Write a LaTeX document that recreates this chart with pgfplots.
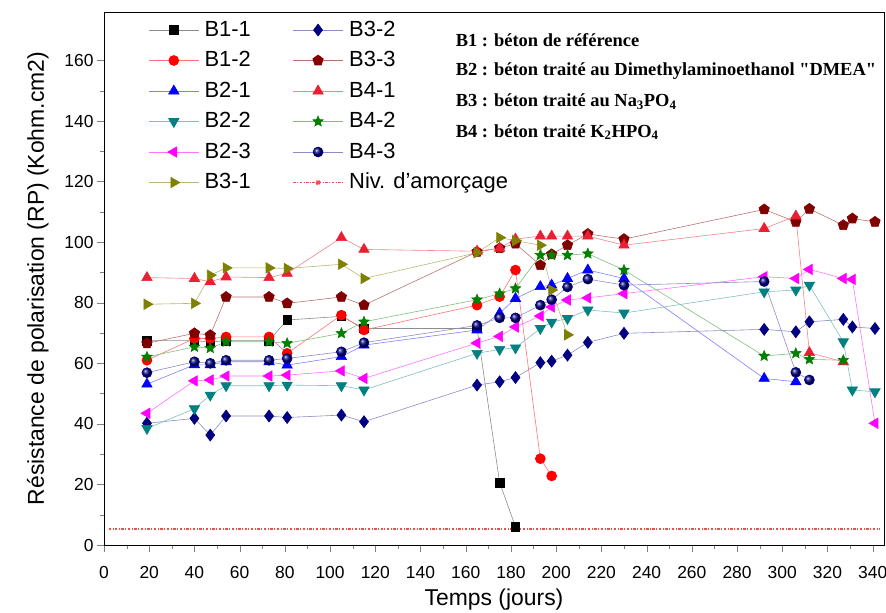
\documentclass[border=0pt]{standalone}
\usepackage{pgfplots}
\pgfplotsset{compat=1.18}
\usepackage{fontspec}
\setmainfont{Liberation Sans}
\newfontfamily\tnr{Liberation Serif}
\definecolor{navy}{RGB}{0,0,128}
\definecolor{wine}{RGB}{128,0,0}
\definecolor{olivec}{RGB}{128,128,0}
\definecolor{dcyan}{RGB}{0,128,128}
\definecolor{dgreen}{RGB}{0,128,0}
\definecolor{redA}{RGB}{255,0,0}
\definecolor{redB}{RGB}{235,30,50}
\definecolor{blueA}{RGB}{0,0,255}
\definecolor{magA}{RGB}{255,0,255}
\definecolor{nivc}{RGB}{235,80,80}
\pgfdeclareplotmark{fstar}{%
  \pgfpathmoveto{\pgfpointpolar{90}{\pgfplotmarksize}}%
  \pgfpathlineto{\pgfpointpolar{126}{0.45\pgfplotmarksize}}%
  \pgfpathlineto{\pgfpointpolar{162}{\pgfplotmarksize}}%
  \pgfpathlineto{\pgfpointpolar{198}{0.45\pgfplotmarksize}}%
  \pgfpathlineto{\pgfpointpolar{234}{\pgfplotmarksize}}%
  \pgfpathlineto{\pgfpointpolar{270}{0.45\pgfplotmarksize}}%
  \pgfpathlineto{\pgfpointpolar{306}{\pgfplotmarksize}}%
  \pgfpathlineto{\pgfpointpolar{342}{0.45\pgfplotmarksize}}%
  \pgfpathlineto{\pgfpointpolar{18}{\pgfplotmarksize}}%
  \pgfpathlineto{\pgfpointpolar{54}{0.45\pgfplotmarksize}}%
  \pgfpathclose
  \pgfusepathqfillstroke
}
\pgfplotsset{nivlegend/.style={legend image code/.code={\draw[##1] (0bp,0bp) -- (50bp,0bp); \fill[nivc] (25bp,0bp) circle (2bp);}}}
\begin{document}
\begin{tikzpicture}
\path[use as bounding box] (-104bp,-68bp) rectangle (782bp,545bp);
\begin{axis}[
  scale only axis, width=780bp, height=533bp,
  xmin=0, xmax=345, ymin=0, ymax=176,
  xtick={0,20,...,340}, ytick={0,20,...,160},
  minor x tick num=1, minor y tick num=1,
  tick align=outside, tick pos=left,
  major tick length=7bp, minor tick length=4bp,
  axis line style={line width=0.9pt},
  /pgf/number format/assume math mode=true,
  tick label style={font=\fontsize{17.5}{18}\selectfont},
  xticklabel style={yshift=-11bp},
  xlabel={Temps (jours)},
  ylabel={Résistance de polarisation (RP) (Kohm.cm2)},
  label style={font=\fontsize{23}{24}\selectfont},
  xlabel style={at={(axis description cs:0.5,-0.103)},anchor=center},
  ylabel style={at={(axis description cs:-0.085,0.5)},anchor=center},
  legend columns=2,
  legend cell align=left,
  legend style={at={(axis description cs:0.053,0.99)}, anchor=north west,
    draw=none, fill=none, font=\fontsize{22}{22}\selectfont,
    row sep=9.5bp,
    nodes={inner sep=1.5bp, text height=15bp, text depth=3bp},
    /tikz/every odd column/.append style={column sep=4bp},
    /tikz/every even column/.append style={column sep=40bp}},
  legend image code/.code={\draw[mark repeat=2,mark phase=2,#1] plot coordinates {(0bp,0bp) (25bp,0bp) (50bp,0bp)};},
  every axis plot/.append style={line width=0.6pt},
]
% B1-1
\addplot[color=black!45, mark=square*, mark size=4.3bp, mark options={solid,fill=black,draw=black}]
coordinates {(19,67.5) (40,67.5) (47,67) (54,67.5) (73,67.5) (81,74.3) (105,75.5) (115,71.5) (165,71.5) (175,20.6) (182,6)};
\addlegendentry{B1-1}
% B3-2
\addplot[color=navy!45, mark=diamond*, mark size=6bp, mark options={solid,fill=navy,draw=navy}]
coordinates {(19,40.2) (40,41.8) (47,36.3) (54,42.6) (73,42.6) (81,42.1) (105,42.9) (115,40.7) (165,52.8) (175,53.9) (182,55.3) (193,60.2) (198,60.7) (205,62.7) (214,66.9) (230,69.9) (292,71.2) (306,70.4) (312,73.7) (327,74.5) (331,72) (341,71.5)};
\addlegendentry{B3-2}
% B1-2
\addplot[color=redA!55, mark=*, mark size=5bp, mark options={solid,fill=redA,draw=redA}]
coordinates {(19,61) (40,68.2) (47,68.2) (54,68.7) (73,68.7) (81,63.3) (105,75.9) (115,71) (165,79.2) (175,82) (182,90.8) (193,28.5) (198,22.8)};
\addlegendentry{B1-2}
% B3-3
\addplot[color=wine!55, mark=pentagon*, mark size=5.5bp, mark options={solid,fill=wine,draw=wine}]
coordinates {(19,66.6) (40,69.9) (47,69.3) (54,81.9) (73,81.9) (81,79.8) (105,81.9) (115,79.2) (165,96.8) (175,98) (182,99.5) (193,92.4) (198,96) (205,99) (214,102.7) (230,101) (292,110.8) (306,106.7) (312,111) (327,105.6) (331,107.8) (341,106.7)};
\addlegendentry{B3-3}
% B2-1
\addplot[color=blueA!50, mark=triangle*, mark size=6bp, mark options={solid,fill=blueA,draw=blueA}]
coordinates {(19,53.1) (40,59.5) (47,59.5) (54,60.5) (73,60.5) (81,59.4) (105,62.2) (115,66) (165,71) (175,76.5) (182,81.4) (193,85.3) (198,85.8) (205,88) (214,90.8) (230,88) (292,55) (306,53.9)};
\addlegendentry{B2-1}
% B4-1
\addplot[color=redB!55, mark=triangle*, mark size=6bp, mark options={solid,fill=redB,draw=redB}]
coordinates {(19,88.3) (40,88) (47,86.9) (54,88.5) (73,88.3) (81,89.7) (105,101.5) (115,97.6) (165,97) (175,98) (182,101) (193,102) (198,102) (205,102) (214,102) (230,99) (292,104.5) (306,108.6) (312,63.5) (327,60.5)};
\addlegendentry{B4-1}
% B2-2
\addplot[color=dcyan!50, mark=triangle*, mark size=6bp, mark options={solid,rotate=180,fill=dcyan,draw=dcyan}]
coordinates {(19,38.5) (40,45) (47,49.5) (54,52.6) (73,52.6) (81,52.8) (105,52.6) (115,51.2) (165,63.3) (175,64.6) (182,65.1) (193,71.5) (198,73.6) (205,74.8) (214,77.6) (230,76.6) (292,83.6) (306,84.2) (312,85.8) (327,67.1) (331,51.2) (341,50.6)};
\addlegendentry{B2-2}
% B4-2
\addplot[color=dgreen!50, mark=fstar, mark size=5.5bp, mark options={solid,fill=dgreen,draw=dgreen}]
coordinates {(19,62.1) (40,65.4) (47,65) (54,67.1) (73,67.1) (81,66.6) (105,69.9) (115,73.7) (165,81) (175,83) (182,84.7) (193,95.7) (198,95.7) (205,95.7) (214,96.2) (230,90.8) (292,62.4) (306,63.3) (312,61.3) (327,61)};
\addlegendentry{B4-2}
% B2-3
\addplot[color=magA!55, mark=triangle*, mark size=6bp, mark options={solid,rotate=90,fill=magA,draw=magA}]
coordinates {(19,43.5) (40,54.2) (47,54.5) (54,55.8) (73,55.8) (81,56.1) (105,57.5) (115,55) (165,66.7) (175,68.9) (182,72) (193,75.6) (198,78.6) (205,80.9) (214,81.6) (230,83) (292,88.6) (306,88) (312,91) (327,88) (331,87.7) (341,40.2)};
\addlegendentry{B2-3}
% B4-3
\addplot[color=navy!45, mark=ball, mark size=5bp, mark options={solid,ball color=navy,draw=navy}]
coordinates {(19,56.9) (40,60.5) (47,60) (54,61) (73,61) (81,61.6) (105,63.8) (115,66.8) (165,72.5) (175,75) (182,75) (193,79.2) (198,81) (205,85.2) (214,87.8) (230,85.8) (292,87) (306,57) (312,54.5)};
\addlegendentry{B4-3}
% B3-1
\addplot[color=olivec!55, mark=triangle*, mark size=6bp, mark options={solid,rotate=-90,fill=olivec,draw=olivec}]
coordinates {(19,79.5) (40,79.8) (47,89.1) (54,91.5) (73,91.5) (81,91.3) (105,92.7) (115,88) (165,96.5) (175,101.5) (182,100.5) (193,99) (198,84.2) (205,69.4)};
\addlegendentry{B3-1}
% Niv
\addplot[draw=nivc, color=nivc, line width=1.3pt, dash pattern=on 2.5pt off 1.5pt on 1pt off 1.5pt, nivlegend]
coordinates {(2,5.3) (343,5.3)};
\addlegendentry{Niv. d'amorçage}
% annotations
\node[anchor=west, font=\tnr\bfseries\fontsize{18.5}{19}\selectfont, inner sep=0pt] at (axis cs:155.5,166.6) {B1 : béton de référence};
\node[anchor=west, font=\tnr\bfseries\fontsize{18.5}{19}\selectfont, inner sep=0pt] at (axis cs:155.5,156.6) {B2 : béton traité au Dimethylaminoethanol "DMEA"};
\node[anchor=west, font=\tnr\bfseries\fontsize{18.5}{19}\selectfont, inner sep=0pt] at (axis cs:155.5,146.4) {B3 : béton traité au Na\textsubscript{3}PO\textsubscript{4}};
\node[anchor=west, font=\tnr\bfseries\fontsize{18.5}{19}\selectfont, inner sep=0pt] at (axis cs:155.5,136.3) {B4 : béton traité K\textsubscript{2}HPO\textsubscript{4}};
\end{axis}
\end{tikzpicture}
\end{document}
